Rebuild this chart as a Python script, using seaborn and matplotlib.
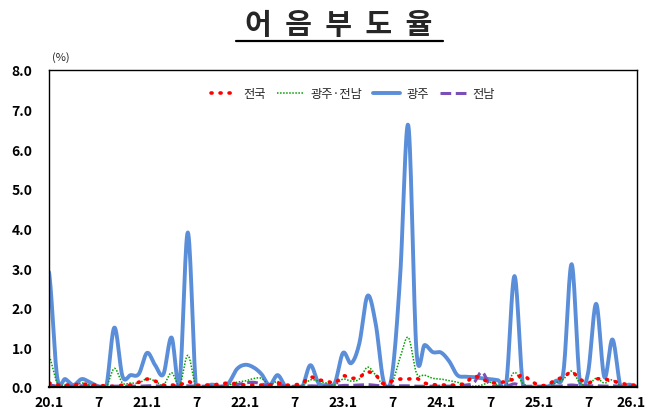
import numpy as np
import pandas as pd
import matplotlib
matplotlib.use("Agg")
import matplotlib.pyplot as plt
import matplotlib.transforms as mtransforms
import seaborn as sns

# ---- data (monthly, 2020.1 .. 2026.1) ----
tick_labels = ["20.1", "7", "21.1", "7", "22.1", "7", "23.1", "7",
               "24.1", "7", "25.1", "7", "26.1"]

gwangju = [2.9, 0.25, 0.2, 0.05, 0.2, 0.12, 0.02, 0.0, 1.5, 0.27, 0.3, 0.33,
           0.86, 0.55, 0.32, 1.25, 0.15, 3.9, 0.0, 0.0, 0.06, 0.0, 0.1, 0.45,
           0.56, 0.5, 0.33, 0.05, 0.3, 0.0, 0.0, 0.0, 0.55, 0.1, 0.05, 0.1,
           0.86, 0.6, 1.1, 2.3, 1.6, 0.12, 0.3, 2.8, 6.6, 0.9, 1.06, 0.88,
           0.87, 0.65, 0.3, 0.26, 0.25, 0.22, 0.2, 0.17, 0.12, 2.8, 0.1, 0.0,
           0.0, 0.0, 0.15, 0.4, 3.1, 0.15, 0.35, 2.1, 0.25, 1.2, 0.0, 0.06, 0.0]

gj_jn = [0.78, 0.1, 0.05, 0.02, 0.1, 0.05, 0.0, 0.0, 0.47, 0.1, 0.1, 0.1,
         0.21, 0.15, 0.05, 0.36, 0.05, 0.8, 0.0, 0.0, 0.02, 0.0, 0.05, 0.12,
         0.15, 0.21, 0.22, 0.05, 0.14, 0.0, 0.0, 0.04, 0.18, 0.15, 0.1, 0.05,
         0.2, 0.15, 0.2, 0.5, 0.3, 0.03, 0.1, 0.75, 1.25, 0.35, 0.3, 0.22,
         0.2, 0.16, 0.12, 0.05, 0.02, 0.05, 0.12, 0.05, 0.05, 0.37, 0.1, 0.0,
         0.0, 0.0, 0.1, 0.2, 0.4, 0.1, 0.05, 0.22, 0.1, 0.18, 0.02, 0.0, 0.0]

nation = [0.1, 0.05, 0.05, 0.05, 0.08, 0.05, 0.05, 0.02, 0.02, 0.05, 0.05, 0.12,
          0.2, 0.15, 0.05, 0.05, 0.05, 0.14, 0.05, 0.05, 0.05, 0.08, 0.1, 0.08,
          0.05, 0.05, 0.05, 0.05, 0.1, 0.05, 0.05, 0.1, 0.25, 0.18, 0.15, 0.1,
          0.28, 0.22, 0.25, 0.38, 0.3, 0.08, 0.15, 0.2, 0.2, 0.22, 0.1, 0.06,
          0.05, 0.05, 0.05, 0.1, 0.27, 0.2, 0.12, 0.1, 0.15, 0.2, 0.3, 0.15,
          0.05, 0.05, 0.18, 0.25, 0.38, 0.2, 0.1, 0.2, 0.2, 0.15, 0.1, 0.05, 0.05]

jeonnam = [0.05, 0.02, 0.02, 0.02, 0.03, 0.02, 0.02, 0.02, 0.02, 0.02, 0.02, 0.02,
           0.03, 0.03, 0.02, 0.03, 0.02, 0.03, 0.02, 0.02, 0.02, 0.02, 0.03, 0.06,
           0.1, 0.12, 0.08, 0.02, 0.05, 0.02, 0.02, 0.02, 0.03, 0.02, 0.02, 0.02,
           0.04, 0.04, 0.05, 0.06, 0.04, 0.02, 0.02, 0.03, 0.03, 0.02, 0.02, 0.02,
           0.02, 0.02, 0.02, 0.05, 0.1, 0.38, 0.05, 0.02, 0.02, 0.08, 0.02, 0.02,
           0.02, 0.02, 0.02, 0.03, 0.05, 0.03, 0.03, 0.03, 0.02, 0.03, 0.02, 0.02, 0.02]

months = np.arange(len(gwangju))


def smooth(y, n=16):
    """Catmull-Rom smoothing (like spreadsheet 'smoothed line')."""
    y = np.asarray(y, float)
    p = np.concatenate([[y[0]], y, [y[-1]]])
    xs, ys = [], []
    t = np.linspace(0, 1, n, endpoint=False)
    for i in range(len(y) - 1):
        p0, p1, p2, p3 = p[i], p[i + 1], p[i + 2], p[i + 3]
        seg = 0.5 * ((2 * p1) + (-p0 + p2) * t + (2 * p0 - 5 * p1 + 4 * p2 - p3) * t ** 2
                     + (-p0 + 3 * p1 - 3 * p2 + p3) * t ** 3)
        xs.extend(i + t)
        ys.extend(seg)
    xs.append(len(y) - 1)
    ys.append(y[-1])
    return np.array(xs), np.array(ys)


sns.set_theme(style="white")
plt.rcParams['font.family'] = ['Noto Sans CJK KR', 'DejaVu Sans']

fig = plt.figure(figsize=(6.47, 4.10), dpi=100)
ax = fig.add_axes([49 / 647, 22 / 410, 588 / 647, 317 / 410])

series = [
    ("전국", nation, dict(color="#FF0000", lw=2.6, linestyle=(0, (0.3, 2.2)),
                        dash_capstyle="round")),
    ("광주·전남", gj_jn, dict(color="#00A000", lw=1.1, linestyle=(0, (1, 1)))),
    ("광주", gwangju, dict(color="#5B8ED9", lw=2.8, linestyle="-")),
    ("전남", jeonnam, dict(color="#7A4FB8", lw=2.2, linestyle=(0, (3.5, 1.5)))),
]

order = [2, 1, 3, 0]
lines = {}
for k in order:
    name, vals, st = series[k]
    xs, ys = smooth(vals)
    df = pd.DataFrame({"m": xs, "v": ys})
    sns.lineplot(data=df, x="m", y="v", ax=ax, label=name, sort=False,
                 estimator=None, **st)
    lines[name] = ax.get_lines()[-1]

ax.set_xlim(0, 72)
ax.set_ylim(0, 8)
ax.set_xticks(np.arange(0, 73, 6))
ax.set_xticklabels(tick_labels, fontweight="bold", fontsize=10)
ax.set_yticks(np.arange(0, 8.01, 1))
ax.set_yticklabels([f"{v:.1f}" for v in np.arange(0, 8.01, 1)],
                   fontweight="bold", fontsize=10)
ax.set_xlabel("")
ax.set_ylabel("")
ax.tick_params(axis="both", length=0, pad=6, colors="black")
ax.tick_params(axis="y", pad=12)
for s in ax.spines.values():
    s.set_color("black")
    s.set_linewidth(1.0)
ax.spines["bottom"].set_linewidth(1.6)

# keep the last x tick label inside the figure
last = ax.get_xticklabels()[-1]
last.set_transform(last.get_transform() +
                   mtransforms.ScaledTranslation(-6 / 100, 0, fig.dpi_scale_trans))

handles = [lines[n] for n in ["전국", "광주·전남", "광주", "전남"]]
ax.legend(handles, ["전국", "광주·전남", "광주", "전남"], loc="upper center",
          bbox_to_anchor=(0.517, 0.98), ncol=4, frameon=False, fontsize=8.8,
          handlelength=2.2, handletextpad=0.5, columnspacing=0.9)

fig.text(52 / 647, 1 - 58 / 410, "(%)", fontsize=8, ha="left", va="center")

fig.text(339 / 647, 1 - 25 / 410, "어  음  부  도  율", fontsize=21,
         fontweight="bold", ha="center", va="center")
fig.add_artist(plt.Line2D([236 / 647, 443 / 647], [1 - 41.5 / 410, 1 - 41.5 / 410],
                          color="black", lw=1.6, transform=fig.transFigure))

fig.savefig("out.png", dpi=100)
